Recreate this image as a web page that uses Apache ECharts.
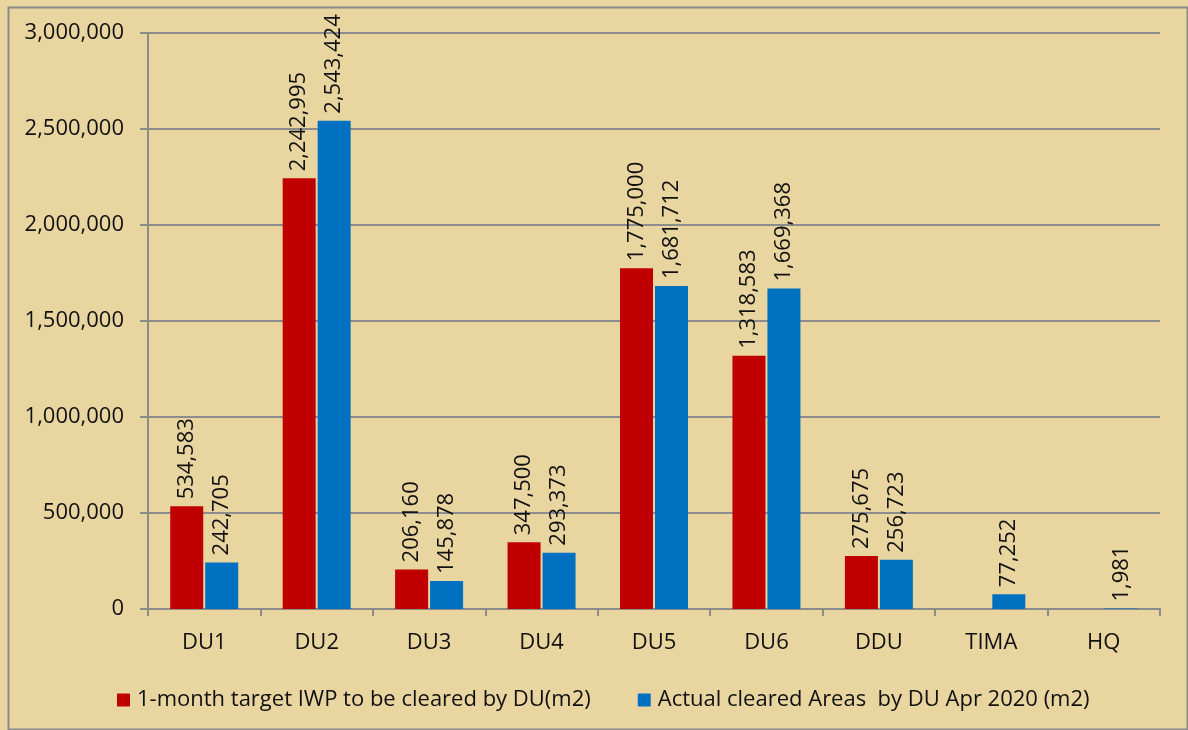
<!DOCTYPE html>
<html>
<head>
<meta charset="utf-8">
<script src="https://cdn.jsdelivr.net/npm/echarts@6/dist/echarts.min.js"></script>
<style>
html,body{margin:0;padding:0;background:#fff;}
#chart{width:1188px;height:730px;}
</style>
</head>
<body>
<div id="chart"></div>
<script>
const categories = ['DU1','DU2','DU3','DU4','DU5','DU6','DDU','TIMA','HQ'];
const targetName = '1-month target IWP to be cleared by DU(m2)';
const actualName = 'Actual cleared Areas  by DU Apr 2020 (m2)';
const targetValues = [534583, 2242995, 206160, 347500, 1775000, 1318583, 275675, null, null];
const actualValues = [242705, 2543424, 145878, 293373, 1681712, 1669368, 256723, 77252, 1981];
const yTicks = [0, 500000, 1000000, 1500000, 2000000, 2500000, 3000000];

const FONT = 'Open Sans';
const fmt = v => v == null ? '' : Number(v).toLocaleString('en-US');
const chart = echarts.init(document.getElementById('chart'), null, {renderer:'canvas'});

const labelCfg = {
  show: true, position: 'top', rotate: 90, align: 'left', verticalAlign: 'middle',
  distance: 7, color: '#111', fontFamily: FONT, fontSize: 22,
  formatter: p => fmt(p.value)
};

chart.setOption({
  backgroundColor: '#E9D5A0',
  animation: false,
  graphic: [{
    type: 'rect', left: 6, top: 5, z: -1,
    shape: {width: 1179, height: 722},
    style: {fill: 'none', stroke: '#8a8a8a', lineWidth: 2}
  }],
  grid: {left: 148, right: 28, top: 33, bottom: 121, containLabel: false},
  legend: {
    left: 112, top: 684, itemWidth: 13, itemHeight: 13, itemGap: 47,
    icon: 'rect',
    textStyle: {fontFamily: FONT, fontSize: 22, color: '#111', padding: [0,0,0,2]},
    data: [targetName, actualName]
  },
  xAxis: {
    type: 'category', data: categories,
    axisLine: {lineStyle: {color: '#8c8c8c', width: 2}},
    axisTick: {show: true, length: 7, lineStyle: {color: '#8c8c8c', width: 2}},
    axisLabel: {fontFamily: FONT, fontSize: 22, color: '#111', margin: 23}
  },
  yAxis: {
    type: 'value', min: yTicks[0], max: yTicks[yTicks.length-1], interval: yTicks[1]-yTicks[0],
    axisLine: {show: true, lineStyle: {color: '#8c8c8c', width: 2}},
    axisTick: {show: true, length: 8, lineStyle: {color: '#8c8c8c', width: 2}},
    splitLine: {lineStyle: {color: '#8c8c8c', width: 2}},
    axisLabel: {fontFamily: FONT, fontSize: 22, color: '#111', margin: 24, formatter: v => fmt(v)}
  },
  series: [
    {name: targetName, type: 'bar', data: targetValues, barWidth: 33, barGap: '6%',
     itemStyle: {color: '#C00000'}, label: labelCfg},
    {name: actualName, type: 'bar', data: actualValues, barWidth: 33,
     itemStyle: {color: '#0070C0'}, label: labelCfg}
  ]
});
</script>
</body>
</html>
